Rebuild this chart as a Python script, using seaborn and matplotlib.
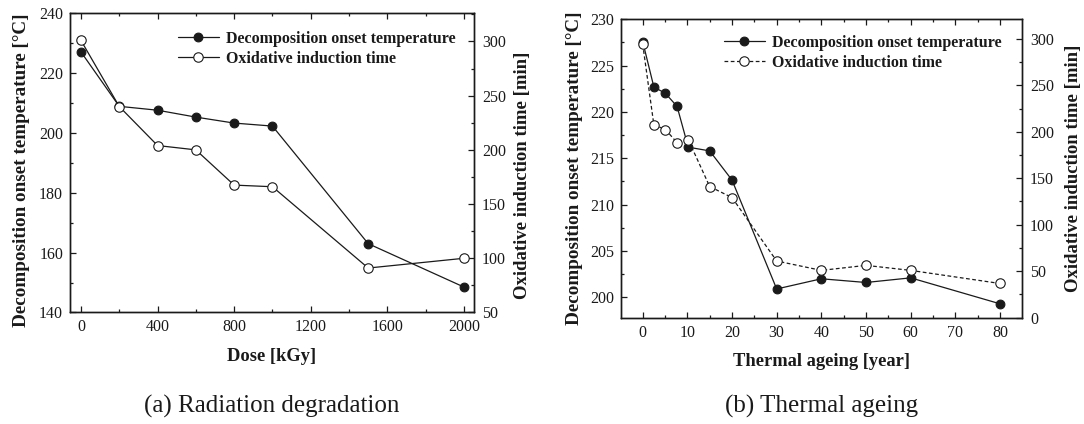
import matplotlib
matplotlib.use("Agg")
import matplotlib.pyplot as plt
import seaborn as sns
import pandas as pd
from matplotlib.ticker import MultipleLocator

# ---- data ----
dose = [0, 200, 400, 600, 800, 1000, 1500, 2000]
dose_temp = [227.1, 208.9, 207.6, 205.3, 203.3, 202.3, 163.0, 148.5]
dose_oit = [301, 240, 204, 200, 167.5, 166, 91, 100]

years = [0, 2.5, 5.1, 7.7, 10.2, 15, 20, 30, 40, 50, 60, 80]
age_temp = [227.6, 222.7, 222.0, 220.6, 216.2, 215.8, 212.65, 200.9, 202.0, 201.6, 202.1, 199.3]
age_oit = [294.4, 207.5, 202.4, 188.3, 191.6, 141.1, 129.2, 61.0, 50.9, 56.3, 50.9, 36.8]

label_temp = "Decomposition onset temperature"
label_oit = "Oxidative induction time"
ylabel_left = "Decomposition onset temperature [°C]"
ylabel_right = "Oxidative induction time [min]"

sns.set_style("ticks")
plt.rcParams['font.family'] = ['Liberation Serif', 'DejaVu Serif']
plt.rcParams['axes.linewidth'] = 1.0

C = "#1a1a1a"
fig = plt.figure(figsize=(10.84, 4.24), dpi=100)
axA = fig.add_axes([0.0646, 0.263, 0.3724, 0.7057])
axB = fig.add_axes([0.5729, 0.2507, 0.3696, 0.7038])


def panel(ax, x, t, o, xlim, ylim_t, ylim_o, xmaj, xmin, tmaj, tmin, omaj, omin,
          xlabel, caption, dashed, leg_anchor):
    df = pd.DataFrame({"x": x, "t": t, "o": o})
    sns.lineplot(data=df, x="x", y="t", ax=ax, color=C, marker="o", markersize=6.3,
                 markerfacecolor=C, markeredgecolor=C, markeredgewidth=0.8,
                 linewidth=0.9, estimator=None, sort=False, legend=False)
    l1 = ax.lines[-1]
    axr = ax.twinx()
    sns.lineplot(data=df, x="x", y="o", ax=axr, color=C, marker="o", markersize=6.8,
                 markerfacecolor="white", markeredgecolor=C, markeredgewidth=0.8,
                 linewidth=0.9, estimator=None, sort=False, legend=False)
    l2 = axr.lines[-1]
    if dashed:
        l2.set_linestyle((0, (3, 2)))
    ax.set_xlim(*xlim)
    ax.set_ylim(*ylim_t)
    axr.set_ylim(*ylim_o)
    ax.xaxis.set_major_locator(MultipleLocator(xmaj))
    ax.xaxis.set_minor_locator(MultipleLocator(xmin))
    ax.yaxis.set_major_locator(MultipleLocator(tmaj))
    ax.yaxis.set_minor_locator(MultipleLocator(tmin))
    axr.yaxis.set_major_locator(MultipleLocator(omaj))
    axr.yaxis.set_minor_locator(MultipleLocator(omin))
    ax.tick_params(axis="both", which="both", direction="in", top=True, right=False,
                   labelsize=11.5, color=C, labelcolor=C)
    ax.tick_params(which="major", length=4.5, width=0.9, pad=5)
    ax.tick_params(which="minor", length=2.5, width=0.9)
    axr.tick_params(axis="y", which="both", direction="in", labelsize=11.5, color=C,
                    labelcolor=C)
    axr.tick_params(which="major", length=4.5, width=0.9, pad=6)
    axr.tick_params(which="minor", length=2.5, width=0.9)
    ax.set_xlabel(xlabel, fontsize=13.3, fontweight="bold", labelpad=9, color=C)
    ax.set_ylabel(ylabel_left, fontsize=13.8, fontweight="bold", labelpad=5, color=C)
    axr.set_ylabel(ylabel_right, fontsize=13.5, fontweight="bold", labelpad=8, color=C)
    for a in (ax, axr):
        for s in a.spines.values():
            s.set_visible(True)
            s.set_color(C)
    leg = axr.legend([l1, l2], [label_temp, label_oit], loc="upper right",
                     bbox_to_anchor=leg_anchor, frameon=False,
                     prop={"weight": "bold", "size": 11.5}, handlelength=2.6,
                     handletextpad=0.4, labelspacing=0.25, borderaxespad=0.0)
    for txt in leg.get_texts():
        txt.set_color(C)
    pos = ax.get_position()
    fig.text(pos.x0 + pos.width / 2, 0.041, caption, ha="center", va="center",
             fontsize=18, color=C)
    return axr


axA_r = panel(axA, dose, dose_temp, dose_oit, (-57, 2051), (140, 240), (50, 326),
              400, 200, 20, 10, 50, 25, "Dose [kGy]", "(a) Radiation degradation",
              False, (0.97, 0.963))
axB_r = panel(axB, years, age_temp, age_oit, (-4.85, 84.85), (197.8, 230), (0, 321),
              10, 5, 5, 2.5, 50, 25, "Thermal ageing [year]", "(b) Thermal ageing",
              True, (0.965, 0.97))

# the left panel's axis titles sit a little below the axes centre in the reference
axA.yaxis.set_label_coords(-0.1, 0.475)
axA_r.yaxis.set_label_coords(1.101, 0.46)

fig.savefig("out.png", dpi=100)
